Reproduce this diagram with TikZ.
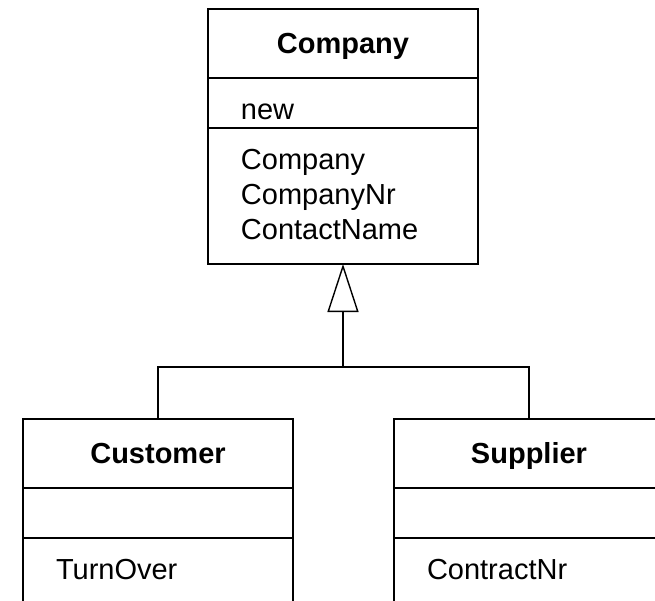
\documentclass[tikz,border=0pt]{standalone}
\usepackage{fontspec}
\setmainfont{Liberation Sans}
\usetikzlibrary{arrows.meta, positioning}

\begin{document}
\begin{tikzpicture}[
  x=0.5pt, y=-0.5pt,
  umlbox/.style={draw, line width=0.7pt, outer sep=0pt, inner ysep=0pt,
    inner xsep=16.5pt, text width=102pt, minimum width=135pt,
    font=\fontsize{14.5}{17.5}\selectfont},
  umlname/.style={umlbox, anchor=north, align=center,
    font=\fontsize{14.5}{17.5}\selectfont\bfseries,
    text height=22pt, text depth=12.5pt},
  umlops/.style={umlbox, align=left, text height=20.5pt, text depth=4.5pt},
  umlattr/.style={umlbox, align=left, text height=20.5pt, text depth=#1},
  link/.style={line width=0.7pt},
  gen/.style={link, -{Triangle[open, length=24pt, width=15.5pt]}}
]
\useasboundingbox (0,0) rectangle (655,601);
\clip (0,0) rectangle (655,601);

% superclass
\node[umlname] (company) at (343,9) {Company};
\node[umlops, below=0pt of company] (companyops) {new};
\node[umlattr=47.5pt, below=0pt of companyops] (companyattr)
  {Company\\CompanyNr\\ContactName};

% subclasses
\node[umlname] (customer) at (158,419) {Customer};
\node[umlops, below=0pt of customer] (customerops) {};
\node[umlattr=30pt, below=0pt of customerops] (customerattr) {TurnOver};

\node[umlname] (supplier) at (529,419) {Supplier};
\node[umlops, below=0pt of supplier] (supplierops) {};
\node[umlattr=30pt, below=0pt of supplierops] (supplierattr) {ContractNr};

% generalization
\coordinate (join) at (343,367);
\draw[link] (customer.north) |- (join);
\draw[link] (supplier.north) |- (join);
\draw[gen] (join) -- (companyattr.south);
\end{tikzpicture}
\end{document}
